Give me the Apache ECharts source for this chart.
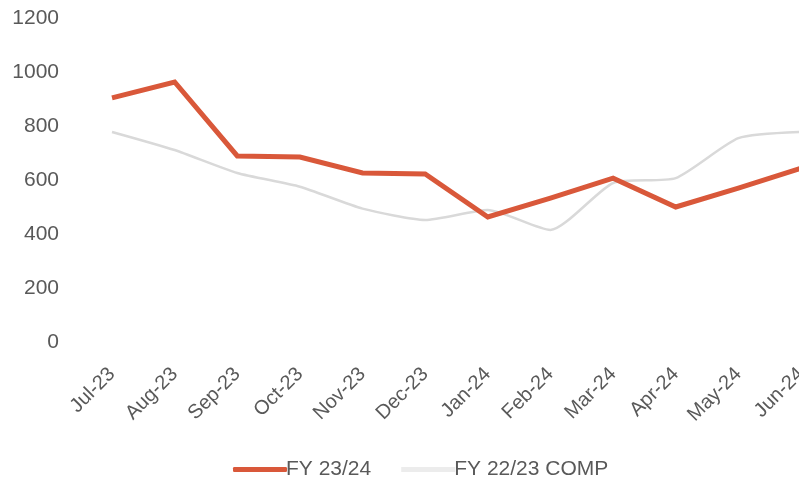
<!DOCTYPE html>
<html>
<head>
<meta charset="utf-8">
<script src="https://cdn.jsdelivr.net/npm/echarts@6/dist/echarts.min.js"></script>
<style>
  html, body { margin: 0; padding: 0; background: #ffffff; }
  #chart { width: 799px; height: 484px; }
</style>
</head>
<body>
<div id="chart"></div>
<script>
// Monthly figures, current financial year vs. prior-year comparison
const months = ['Jul-23', 'Aug-23', 'Sep-23', 'Oct-23', 'Nov-23', 'Dec-23',
                'Jan-24', 'Feb-24', 'Mar-24', 'Apr-24', 'May-24', 'Jun-24'];
const fy2324 = [904, 963, 689, 685, 626, 622, 463, 533, 607, 500, 570, 644];
const fy2223Comp = [778, 711, 626, 575, 494, 452, 489, 415, 589, 607, 755, 778];
const yTicks = { min: 0, max: 1200, interval: 200 };

const chart = echarts.init(document.getElementById('chart'));
const font = '"Liberation Sans", Arial, sans-serif';
const red = '#d9583a';
const grey = '#d9d9d9';

chart.setOption({
  backgroundColor: '#ffffff',
  animation: false,
  grid: {
    left: 112, right: -2, top: 18, bottom: 142,
    containLabel: false,
    outerBoundsMode: 'none'
  },
  legend: {
    top: 454,
    left: 228,
    itemWidth: 54,
    itemHeight: 5,
    itemGap: 30,
    textStyle: { fontFamily: font, fontSize: 21, color: '#595959', padding: [0, 0, 0, -6] },
    data: [
      { name: 'FY 23/24', icon: 'roundRect', itemStyle: { color: red } },
      { name: 'FY 22/23 COMP', icon: 'rect', itemStyle: { color: '#ececec' } }
    ]
  },
  xAxis: {
    type: 'category',
    data: months,
    boundaryGap: false,
    axisLine: { show: false },
    axisTick: { show: false },
    axisLabel: {
      rotate: 45,
      margin: 29,
      fontFamily: font,
      fontSize: 20,
      color: '#595959',
      interval: 0,
      hideOverlap: false
    },
    splitLine: { show: false }
  },
  yAxis: {
    type: 'value',
    min: yTicks.min,
    max: yTicks.max,
    interval: yTicks.interval,
    axisLine: { show: false },
    axisTick: { show: false },
    splitLine: { show: false },
    axisLabel: {
      margin: 53,
      fontFamily: font,
      fontSize: 21,
      color: '#595959',
      formatter: v => String(v)
    }
  },
  series: [
    {
      name: 'FY 23/24',
      type: 'line',
      data: fy2324,
      symbol: 'none',
      lineStyle: { color: red, width: 5, join: 'miter' },
      itemStyle: { color: red },
      z: 3
    },
    {
      name: 'FY 22/23 COMP',
      type: 'line',
      data: fy2223Comp,
      symbol: 'none',
      smooth: 0.2,
      lineStyle: { color: grey, width: 2.5 },
      itemStyle: { color: grey },
      z: 2
    }
  ]
});
</script>
</body>
</html>
